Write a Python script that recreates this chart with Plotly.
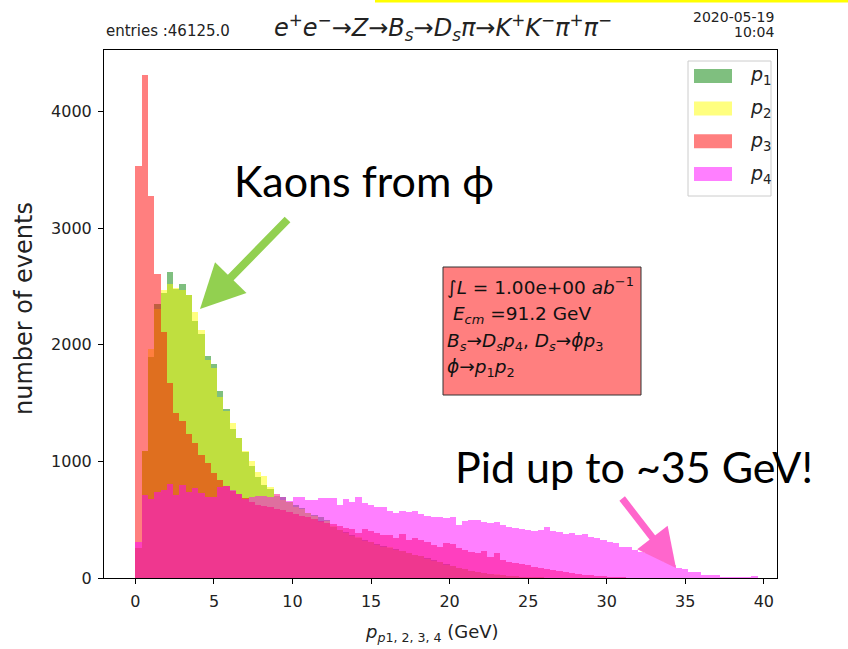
import plotly.graph_objects as go

# ---------------- data ----------------
bin_lo = 0.0
bin_width = 0.4
n_bins = 100

p1_counts = [254, 1091, 1897, 2354, 2440, 2625, 2482, 2525, 2425, 2202,
             2091, 1902, 1831, 1602, 1446, 1282, 1197, 1083, 960, 868,
             797, 760, 700, 697, 648, 626, 597, 554, 540, 526,
             497, 440, 411, 397, 365, 345, 325, 305, 290, 272,
             260, 245, 230, 215, 200, 185, 170, 152, 135, 118,
             100, 88, 75, 62, 52, 44, 36, 30, 24, 19,
             15, 12, 9, 7, 5, 4, 3, 2, 2, 1,
             1, 0, 0, 0, 0, 0, 0, 0, 0, 0,
             0, 0, 0, 0, 0, 0, 0, 0, 0, 0,
             0, 0, 0, 0, 0, 0, 0, 0, 0, 0]

p2_counts = [254, 1091, 1960, 2311, 2474, 2525, 2490, 2474, 2430, 2282,
             2125, 1868, 1797, 1548, 1434, 1325, 1200, 1090, 1005, 911,
             874, 783, 717, 669, 648, 605, 590, 560, 530, 483,
             490, 445, 415, 390, 360, 350, 320, 310, 285, 270,
             262, 240, 232, 212, 198, 188, 165, 150, 138, 115,
             102, 85, 77, 60, 50, 45, 35, 31, 23, 20,
             14, 12, 8, 7, 5, 4, 3, 2, 1, 1,
             1, 0, 0, 0, 0, 0, 0, 0, 0, 0,
             0, 0, 0, 0, 0, 0, 0, 0, 0, 0,
             0, 0, 0, 0, 0, 0, 0, 0, 0, 0]

p3_counts = [3530, 4313, 3273, 2611, 2111, 1674, 1417, 1345, 1231, 1154,
             1054, 983, 900, 840, 790, 750, 720, 690, 650, 630,
             620, 610, 595, 580, 565, 550, 530, 520, 505, 490,
             475, 465, 450, 430, 417, 389, 417, 406, 383, 368,
             368, 340, 377, 326, 340, 326, 311, 283, 269, 297,
             290, 254, 240, 226, 211, 234, 183, 211, 154, 140,
             130, 118, 108, 98, 88, 78, 68, 58, 48, 42,
             34, 28, 22, 18, 14, 11, 8, 6, 4, 3,
             2, 1, 1, 0, 0, 0, 0, 0, 0, 0,
             0, 0, 0, 0, 0, 0, 0, 0, 0, 0]

p4_counts = [311, 711, 674, 740, 751, 805, 711, 797, 740, 774,
             731, 691, 691, 783, 788, 751, 720, 674, 697, 705,
             700, 697, 717, 697, 663, 697, 697, 666, 666, 683,
             683, 683, 626, 674, 654, 697, 645, 625, 611, 611,
             577, 560, 577, 568, 577, 548, 531, 520, 520, 511,
             520, 454, 488, 497, 497, 483, 468, 477, 454, 440,
             426, 417, 411, 406, 411, 440, 406, 397, 377, 383,
             368, 377, 348, 340, 326, 311, 297, 269, 269, 240,
             226, 211, 211, 169, 140, 111, 86, 74, 54, 54,
             26, 26, 26, 11, 11, 11, 5, 5, 17, 2]

series_names = ["p1", "p2", "p3", "p4"]
series_labels = ["<i>p</i><sub>1</sub>", "<i>p</i><sub>2</sub>",
                 "<i>p</i><sub>3</sub>", "<i>p</i><sub>4</sub>"]
series_colors = ["rgba(0,128,0,0.5)", "rgba(255,255,0,0.5)",
                 "rgba(255,0,0,0.5)", "rgba(255,0,255,0.5)"]
series_values = [p1_counts, p2_counts, p3_counts, p4_counts]

x_ticks = [0, 5, 10, 15, 20, 25, 30, 35, 40]
y_ticks = [0, 1000, 2000, 3000, 4000]

# ---------------- figure ----------------
W, H = 848, 649
L, R, T, B = 104, 777, 50, 578


def px(x):
    return (x - L) / (R - L)


def py(y):
    return (B - y) / (B - T)


centers = [bin_lo + bin_width * (i + 0.5) for i in range(n_bins)]

fig = go.Figure()
for name, col, vals in zip(series_names, series_colors, series_values):
    fig.add_trace(go.Bar(x=centers, y=vals, width=bin_width, name=name,
                         marker=dict(color=col, line=dict(width=0)),
                         showlegend=False, hoverinfo="x+y+name"))

axis_common = dict(showline=True, mirror=True, linecolor="black", linewidth=1,
                   ticks="outside", ticklen=5, tickcolor="black", tickwidth=1,
                   showgrid=False, zeroline=False,
                   tickfont=dict(family="DejaVu Sans", size=16, color="#222"))

fig.update_layout(
    width=W, height=H,
    margin=dict(l=L, r=W - R, t=T, b=H - B, autoexpand=False),
    paper_bgcolor="white", plot_bgcolor="white",
    barmode="overlay", bargap=0,
    xaxis=dict(range=[-2.0, 40.84], tickvals=x_ticks, ticklabelstandoff=4, **axis_common),
    yaxis=dict(range=[0, 4528], tickvals=y_ticks, ticklabelstandoff=3, **axis_common),
)

shapes = []
annotations = []

# legend (manual, matplotlib-like)
shapes.append(dict(type="rect", xref="paper", yref="paper",
                   x0=px(688), x1=px(771), y0=py(196), y1=py(61),
                   line=dict(color="#cccccc", width=1), fillcolor="rgba(255,255,255,0.8)"))
leg_rows = [76, 108.5, 141.3, 174]
for yc, col, lab in zip(leg_rows, series_colors, series_labels):
    shapes.append(dict(type="rect", xref="paper", yref="paper",
                       x0=px(694), x1=px(732), y0=py(yc + 7), y1=py(yc - 7),
                       line=dict(width=0), fillcolor=col))
    annotations.append(dict(xref="paper", yref="paper", x=px(748), y=py(yc),
                            xanchor="left", yanchor="middle", showarrow=False,
                            text=lab, font=dict(family="DejaVu Sans", size=19, color="#222")))

# info box
shapes.append(dict(type="rect", xref="paper", yref="paper",
                   x0=px(443), x1=px(641), y0=py(395), y1=py(267),
                   line=dict(color="#333333", width=1), fillcolor="rgba(255,0,0,0.5)"))
box_lines = [
    (286, "∫<i>L</i> = 1.00e+00 <i>ab</i><sup>−1</sup>", 445),
    (315, " <i>E</i><sub><i>cm</i></sub> =91.2 GeV", 445),
    (342, "<i>B</i><sub><i>s</i></sub>→<i>D</i><sub><i>s</i></sub><i>p</i><sub>4</sub>, "
          "<i>D</i><sub><i>s</i></sub>→<i>ϕp</i><sub>3</sub>", 445),
    (368, "<i>ϕ</i>→<i>p</i><sub>1</sub><i>p</i><sub>2</sub>", 445),
]
for yc, txt, xl in box_lines:
    annotations.append(dict(xref="paper", yref="paper", x=px(xl), y=py(yc),
                            xanchor="left", yanchor="middle", showarrow=False,
                            text=txt, font=dict(family="DejaVu Sans", size=18.5, color="#111")))

# titles
annotations.append(dict(xref="paper", yref="paper", x=px(104), y=py(31),
                        xanchor="left", yanchor="middle", showarrow=False,
                        text="entries :46125.0",
                        font=dict(family="DejaVu Sans", size=15, color="#222")))
annotations.append(dict(xref="paper", yref="paper", x=px(443), y=py(28),
                        xanchor="center", yanchor="middle", showarrow=False,
                        text="<i>e</i><sup>+</sup><i>e</i><sup>−</sup>→<i>Z</i>→<i>B</i><sub><i>s</i></sub>"
                             "→<i>D</i><sub><i>s</i></sub><i>π</i>→<i>K</i><sup>+</sup><i>K</i><sup>−</sup>"
                             "<i>π</i><sup>+</sup><i>π</i><sup>−</sup>",
                        font=dict(family="DejaVu Sans", size=24, color="#222")))
annotations.append(dict(xref="paper", yref="paper", x=px(776), y=py(17),
                        xanchor="right", yanchor="middle", showarrow=False,
                        text="2020-05-19", font=dict(family="DejaVu Sans", size=14, color="#222")))
annotations.append(dict(xref="paper", yref="paper", x=px(776), y=py(32),
                        xanchor="right", yanchor="middle", showarrow=False,
                        text="10:04", font=dict(family="DejaVu Sans", size=14, color="#222")))

# axis titles
annotations.append(dict(xref="paper", yref="paper", x=px(432), y=py(633),
                        xanchor="center", yanchor="middle", showarrow=False,
                        text="<i>p</i><sub><i>p</i>1, 2, 3, 4</sub> (GeV)",
                        font=dict(family="DejaVu Sans", size=18, color="#222")))
annotations.append(dict(xref="paper", yref="paper", x=px(24), y=py(309),
                        xanchor="center", yanchor="middle", showarrow=False, textangle=-90,
                        text="number of events",
                        font=dict(family="DejaVu Sans", size=24, color="#222")))

# slide overlays
annotations.append(dict(xref="paper", yref="paper", x=px(232), y=py(180),
                        xanchor="left", yanchor="middle", showarrow=False,
                        text="Kaons from ϕ", font=dict(family="Lato", size=43, color="black")))
annotations.append(dict(xref="paper", yref="paper", x=px(453), y=py(466),
                        xanchor="left", yanchor="middle", showarrow=False,
                        text="Pid up to ~35 GeV!", font=dict(family="Lato", size=43, color="black")))
annotations.append(dict(xref="paper", yref="paper", x=px(200), y=py(309),
                        ax=89, ay=-91, text="", showarrow=True, arrowhead=2,
                        arrowsize=1.1, arrowwidth=8, arrowcolor="#92D050", standoff=0))
annotations.append(dict(xref="paper", yref="paper", x=px(676), y=py(568),
                        ax=-55, ay=-71, text="", showarrow=True, arrowhead=2,
                        arrowsize=1.1, arrowwidth=7, arrowcolor="#FF66CC", standoff=0))

# yellow slide line at the very top
shapes.append(dict(type="line", xref="paper", yref="paper",
                   x0=px(375), x1=px(848), y0=py(1), y1=py(1),
                   line=dict(color="#FFFF00", width=3)))

fig.update_layout(shapes=shapes, annotations=annotations)
fig.write_html("out.html")
